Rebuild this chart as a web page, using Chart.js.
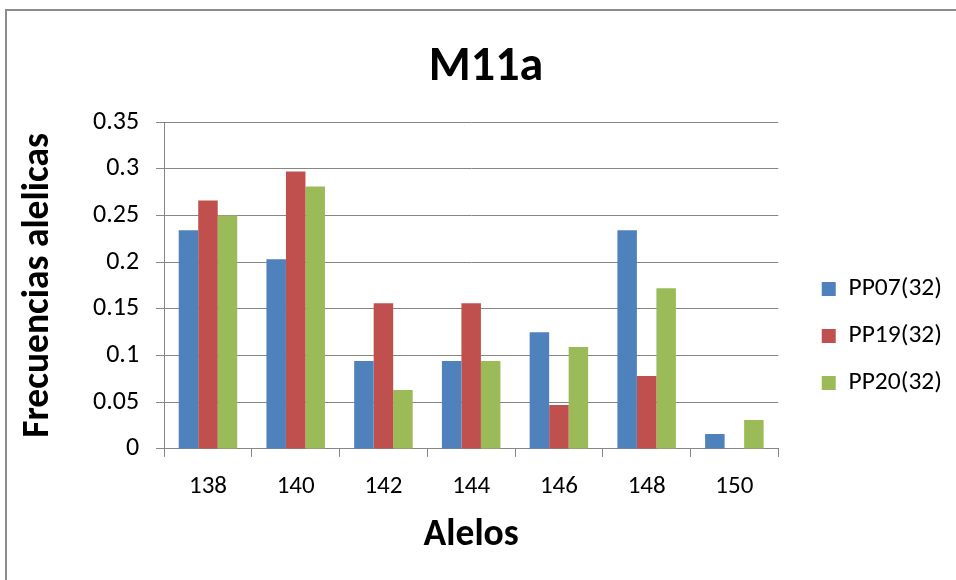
<!DOCTYPE html>
<html>
<head>
<meta charset="utf-8">
<script src="https://cdn.jsdelivr.net/npm/chart.js@4/dist/chart.umd.min.js"></script>
<style>
  html, body { margin: 0; padding: 0; background: #ffffff; }
  #wrap { position: relative; width: 956px; height: 580px; }
  canvas { display: block; }
</style>
</head>
<body>
<div id="wrap"><canvas id="chart" width="956" height="580"></canvas></div>
<script>
// Allele sizes (bp) and allele frequencies per population (n = 32 individuals)
const alleles = ['138', '140', '142', '144', '146', '148', '150'];
const pp07 = [0.234, 0.203, 0.094, 0.094, 0.125, 0.234, 0.016];
const pp19 = [0.266, 0.297, 0.156, 0.156, 0.047, 0.078, 0];
const pp20 = [0.250, 0.281, 0.063, 0.094, 0.109, 0.172, 0.031];
const seriesNames = ['PP07(32)', 'PP19(32)', 'PP20(32)'];
const yTicks = [0, 0.05, 0.1, 0.15, 0.2, 0.25, 0.3, 0.35];

const FONT = 'Carlito, Calibri, Lato, sans-serif';
const GRID = '#868686';

// Outer chart frame
const framePlugin = {
  id: 'frame',
  beforeDraw(chart) {
    const ctx = chart.ctx;
    ctx.save();
    ctx.fillStyle = '#ffffff';
    ctx.fillRect(0, 0, chart.width, chart.height);
    ctx.strokeStyle = '#8c8c8c';
    ctx.lineWidth = 2;
    ctx.strokeRect(6, 10, chart.width + 10, chart.height + 10);
    ctx.restore();
  }
};

// Nudge the legend column and the title after layout
const blockShift = {
  id: 'blockShift',
  afterLayout(chart, args, opts) {
    const lg = chart.legend;
    if (lg) {
      lg.left += opts.legendDx; lg.right += opts.legendDx;
      lg.top += opts.legendDy; lg.bottom += opts.legendDy;
    }
    const tb = chart.titleBlock;
    if (tb) { tb.left += opts.titleDx; tb.right += opts.titleDx; }
  }
};

new Chart(document.getElementById('chart'), {
  type: 'bar',
  data: {
    labels: alleles,
    datasets: [
      { label: seriesNames[0], data: pp07, backgroundColor: '#4F81BD' },
      { label: seriesNames[1], data: pp19, backgroundColor: '#C0504D' },
      { label: seriesNames[2], data: pp20, backgroundColor: '#9BBB59' }
    ]
  },
  options: {
    responsive: false,
    animation: false,
    events: [],
    layout: { padding: { top: 10, left: 10, right: 26, bottom: 0 } },
    datasets: {
      bar: { categoryPercentage: 0.667, barPercentage: 1.0, borderWidth: 0 }
    },
    plugins: {
      title: {
        display: true,
        text: 'M11a',
        color: '#000000',
        font: { family: FONT, size: 48, weight: 'bold' },
        padding: { top: 29.5, bottom: 24.9 }
      },
      legend: {
        position: 'right',
        align: 'center',
        labels: {
          boxWidth: 14,
          boxHeight: 14,
          padding: 21.5,
          color: '#000000',
          font: { family: FONT, size: 25.5 }
        }
      },
      blockShift: { legendDx: 22, legendDy: 41, titleDx: 16 },
      tooltip: { enabled: false }
    },
    scales: {
      x: {
        offset: true,
        grid: {
          offset: true,
          drawOnChartArea: false,
          drawTicks: true,
          tickLength: 8,
          color: GRID
        },
        border: { color: GRID, width: 1 },
        ticks: {
          color: '#000000',
          font: { family: FONT, size: 25 },
          padding: 14.5
        },
        title: {
          display: true,
          text: 'Alelos',
          color: '#000000',
          font: { family: FONT, size: 37.5, weight: 'bold' },
          padding: { top: -3, bottom: 22.1 }
        }
      },
      y: {
        min: 0,
        max: 0.35,
        afterBuildTicks(scale) {
          scale.ticks = yTicks.map(v => ({ value: v }));
        },
        grid: {
          color: GRID,
          tickLength: 8,
          drawTicks: true
        },
        border: { color: GRID, width: 1 },
        ticks: {
          color: '#000000',
          font: { family: FONT, size: 26 },
          padding: 17,
          callback: v => String(v)
        },
        title: {
          display: true,
          text: 'Frecuencias alelicas',
          color: '#000000',
          font: { family: FONT, size: 37.5, weight: 'bold' },
          padding: { top: 6, bottom: 15 }
        }
      }
    }
  },
  plugins: [framePlugin, blockShift]
});
</script>
</body>
</html>
